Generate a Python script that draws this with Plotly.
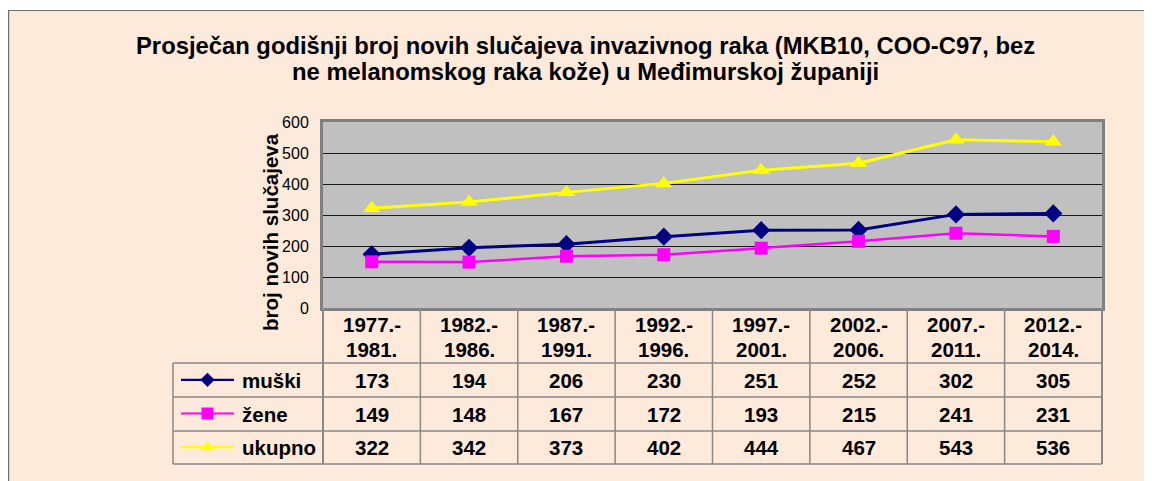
import plotly.graph_objects as go

# ---------------- data ----------------
period_start = ["1977.-", "1982.-", "1987.-", "1992.-", "1997.-", "2002.-", "2007.-", "2012.-"]
period_end = ["1981.", "1986.", "1991.", "1996.", "2001.", "2006.", "2011.", "2014."]
muski = [173, 194, 206, 230, 251, 252, 302, 305]
zene = [149, 148, 167, 172, 193, 215, 241, 231]
ukupno = [322, 342, 373, 402, 444, 467, 543, 536]
series_names = ["muški", "žene", "ukupno"]
y_tick_values = [0, 100, 200, 300, 400, 500, 600]
title_line1 = "Prosječan godišnji broj novih slučajeva invazivnog raka (MKB10, COO-C97, bez"
title_line2 = "ne melanomskog raka kože) u Međimurskoj županiji"
y_title = "broj novih slučajeva"

categories = [a + b for a, b in zip(period_start, period_end)]
series_values = [muski, zene, ukupno]

# ---------------- styling ----------------
# page body has an 8px margin; the figure starts at screen (8, 8)
OX, OY = 8, 8
W, H = 1144, 473
FONT = "Liberation Sans, Arial, sans-serif"
PEACH = "#FDEADA"
PLOT_BG = "#C0C0C0"
GRID_LINE = "#888888"
colors = ["#000080", "#FF00FF", "#FFFF00"]
symbols = ["diamond", "square", "triangle-up"]
msizes = [14, 13, 15]
key_sizes = [11, 12, 12]
lwidths = [3, 2.5, 3]


def px(x):
    """screen x (pixels) -> paper coordinate"""
    return (x - OX) / W


def py(y):
    """screen y (pixels) -> paper coordinate"""
    return 1 - (y - OY) / H


PL, PR, PT, PB = 323, 1102, 122, 308
row_lines = [363, 397, 431, 464]
TABLE_LEFT = 173

fig = go.Figure()

for name, vals, c, s, ms, lw in zip(series_names, series_values, colors, symbols, msizes, lwidths):
    fig.add_trace(go.Scatter(
        x=categories, y=vals, mode="lines+markers", name=name,
        line=dict(color=c, width=lw),
        marker=dict(symbol=s, size=ms, color=c, line=dict(width=0)),
        xaxis="x", yaxis="y", showlegend=False, hoverinfo="skip",
    ))

# legend keys inside the table (separate small subplot)
for i, (c, s, ks) in enumerate(zip(colors, symbols, key_sizes)):
    row_y = 2.5 - i
    fig.add_trace(go.Scatter(x=[0, 1], y=[row_y, row_y], mode="lines",
                             line=dict(color=c, width=2.2), xaxis="x2", yaxis="y2",
                             showlegend=False, hoverinfo="skip"))
    fig.add_trace(go.Scatter(x=[0.5], y=[row_y], mode="markers",
                             marker=dict(symbol=s, size=ks, color=c, line=dict(width=0)),
                             xaxis="x2", yaxis="y2", showlegend=False, hoverinfo="skip",
                             cliponaxis=False))

shapes = []
# gray plot area (drawn below gridlines)
shapes.append(dict(type="rect", xref="x domain", yref="y domain", x0=0, x1=1, y0=0, y1=1,
                   fillcolor=PLOT_BG, line=dict(width=0), layer="below"))
# white strip above the chart border + chart border
shapes.append(dict(type="rect", xref="paper", yref="paper", x0=0, x1=1, y0=py(10), y1=1,
                   fillcolor="white", line=dict(width=0), layer="above"))
shapes.append(dict(type="line", xref="paper", yref="paper", x0=px(8), x1=1, y0=py(10.5), y1=py(10.5),
                   line=dict(color="#707070", width=1.2), layer="above"))
shapes.append(dict(type="line", xref="paper", yref="paper", x0=px(8.6), x1=px(8.6), y0=0, y1=py(10),
                   line=dict(color="#707070", width=1.2), layer="above"))

# table grid
for ry in row_lines:
    shapes.append(dict(type="line", xref="paper", yref="paper", x0=px(TABLE_LEFT), x1=px(PR),
                       y0=py(ry), y1=py(ry), line=dict(color=GRID_LINE, width=1.5), layer="above"))
shapes.append(dict(type="line", xref="paper", yref="paper", x0=px(TABLE_LEFT), x1=px(TABLE_LEFT),
                   y0=py(row_lines[0]), y1=py(row_lines[-1]), line=dict(color=GRID_LINE, width=1.5), layer="above"))
for xd in [0, 1]:
    shapes.append(dict(type="line", xref="x domain", yref="paper", x0=xd, x1=xd,
                       y0=py(PB), y1=py(row_lines[-1]), line=dict(color=GRID_LINE, width=2), layer="above"))
for i in range(1, len(categories)):
    shapes.append(dict(type="line", xref="x", yref="paper", x0=i - 0.5, x1=i - 0.5,
                       y0=py(PB), y1=py(row_lines[-1]), line=dict(color=GRID_LINE, width=1.5), layer="above"))

annotations = []
title_font = dict(family=FONT, size=23.8, color="black", weight="bold")
annotations.append(dict(text=title_line1, xref="paper", yref="paper", x=px(585), y=py(45),
                        xanchor="center", yanchor="middle", showarrow=False, font=title_font))
annotations.append(dict(text=title_line2, xref="paper", yref="paper", x=px(585), y=py(71.8),
                        xanchor="center", yanchor="middle", showarrow=False, font=title_font))
annotations.append(dict(text=y_title, xref="paper", yref="paper", x=px(270), y=py(232),
                        xanchor="center", yanchor="middle", textangle=-90, showarrow=False,
                        font=dict(family=FONT, size=20.5, color="black", weight="bold")))

tf = dict(family=FONT, size=20.5, color="black", weight="bold")
for cat, a, b in zip(categories, period_start, period_end):
    annotations.append(dict(text=a, xref="x", yref="paper", x=cat, y=py(324), xanchor="center",
                            yanchor="middle", showarrow=False, font=tf))
    annotations.append(dict(text=b, xref="x", yref="paper", x=cat, y=py(349), xanchor="center",
                            yanchor="middle", showarrow=False, font=tf))

for r, (name, vals) in enumerate(zip(series_names, series_values)):
    yc = (row_lines[r] + row_lines[r + 1]) / 2
    annotations.append(dict(text=name, xref="paper", yref="paper", x=px(240), y=py(yc),
                            xanchor="left", yanchor="middle", showarrow=False, font=tf))
    for cat, v in zip(categories, vals):
        annotations.append(dict(text=str(v), xref="x", yref="paper", x=cat, y=py(yc),
                                xanchor="center", yanchor="middle", showarrow=False, font=tf))

fig.update_layout(
    width=W, height=H, template="none",
    margin=dict(l=0, r=0, t=0, b=0, pad=0),
    paper_bgcolor=PEACH, plot_bgcolor="rgba(0,0,0,0)",
    showlegend=False, hovermode=False,
    font=dict(family=FONT, color="black"),
    xaxis=dict(domain=[px(PL), px(PR)], type="category", range=[-0.5, len(categories) - 0.5],
               showticklabels=False, ticks="", showgrid=False, zeroline=False,
               showline=True, linecolor="#808080", linewidth=3, mirror=True, anchor="y",
               fixedrange=True),
    yaxis=dict(domain=[py(PB), py(PT)], range=[0, 600], tickvals=y_tick_values,
               showgrid=True, gridcolor="#1a1a1a", gridwidth=1, zeroline=False,
               showline=True, linecolor="#808080", linewidth=3, mirror=True, anchor="x",
               ticks="outside", ticklen=8, tickcolor="rgba(0,0,0,0)",
               tickfont=dict(family=FONT, size=16, color="black"), fixedrange=True),
    xaxis2=dict(domain=[px(181), px(234)], range=[0, 1], visible=False, anchor="y2", fixedrange=True),
    yaxis2=dict(domain=[py(row_lines[-1]), py(row_lines[0])], range=[0, 3], visible=False,
                anchor="x2", fixedrange=True),
    shapes=shapes, annotations=annotations,
)

fig.write_html("out.html", config={"displayModeBar": False})
